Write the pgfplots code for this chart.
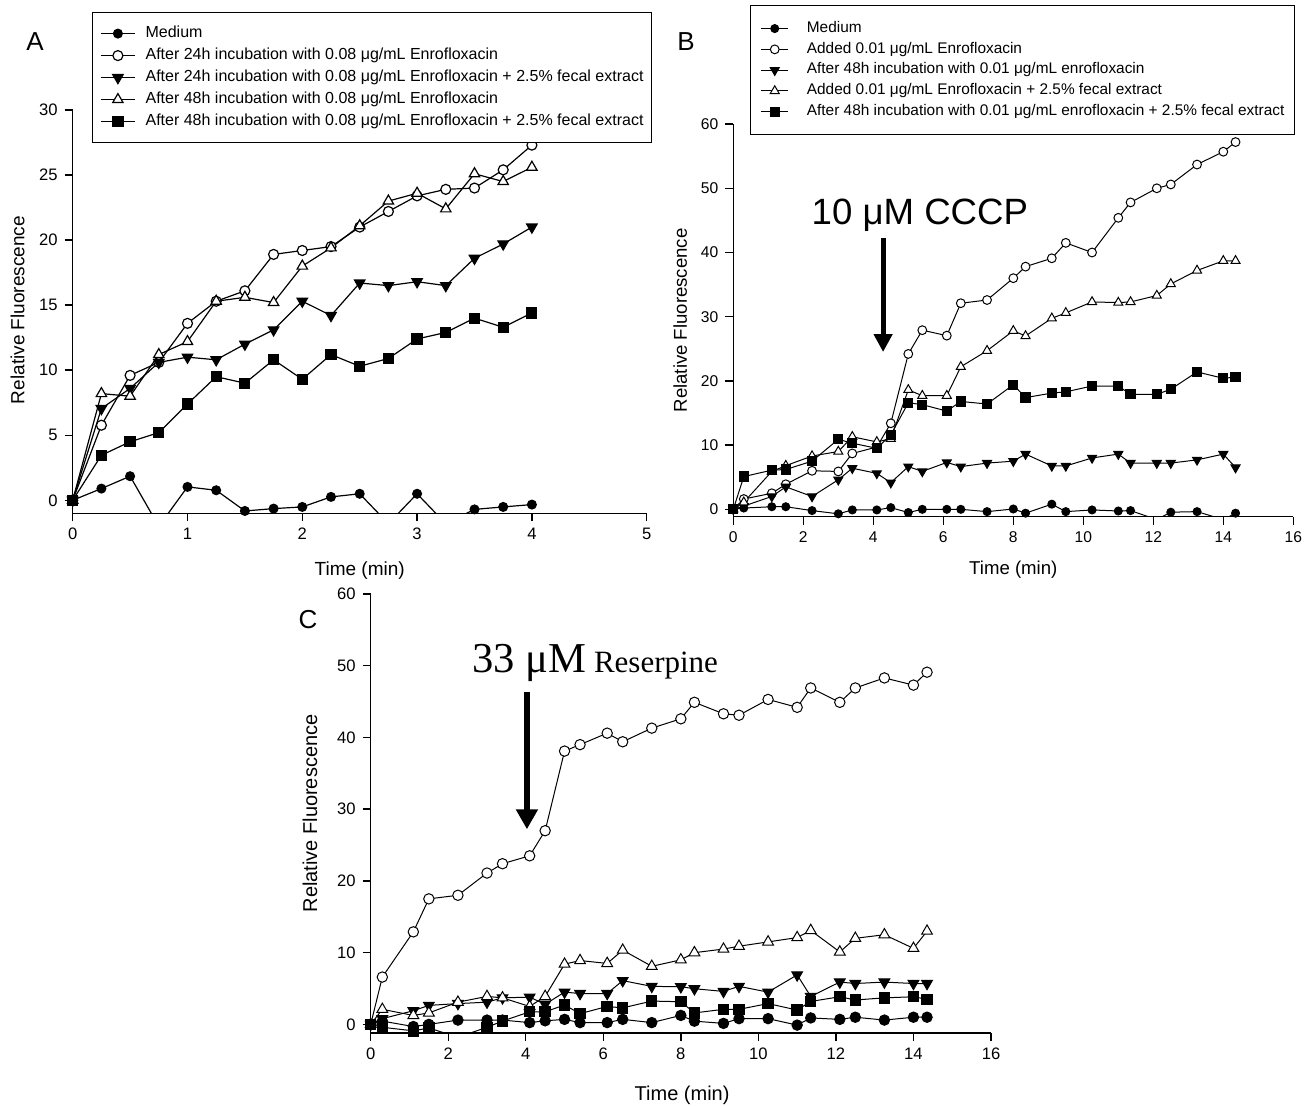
\documentclass[border=0pt]{standalone}
\usepackage{fontspec}
\setmainfont{Liberation Sans}
\newfontfamily\seriffont{Liberation Serif}
\usepackage{pgfplots}
\usepackage{pgfplotstable}
\pgfplotsset{compat=1.18}
\usetikzlibrary{arrows.meta}

% panel A: 0.25 min steps
\pgfplotstableread{
x    med   oc    dt    ot    sq
0    0     0     0     0     0
0.25 0.9   5.77  7.05  8.2   3.46
0.5  1.85  9.6   8.6   8.0   4.5
0.75 -2.0  10.6  10.6  11.2  5.2
1.0  1.03  13.6  11.0  12.2  7.4
1.25 0.77  15.3  10.8  15.3  9.5
1.5  -0.82 16.1  12.0  15.6  9.0
1.75 -0.64 18.9  13.1  15.2  10.8
2.0  -0.51 19.2  15.3  18.0  9.3
2.25 0.26  19.5  14.2  19.4  11.2
2.5  0.5   21.0  16.7  21.1  10.3
2.75 -1.8  22.2  16.5  23.0  10.9
3.0  0.5   23.4  16.8  23.6  12.4
3.25 -1.8  23.9  16.5  22.4  12.9
3.5  -0.7  24.0  18.6  25.1  14.0
3.75 -0.51 25.4  19.7  24.5  13.3
4.0  -0.33 27.3  21.0  25.6  14.4
}\dataA

% panel B: CCCP
\pgfplotstableread{
x     med   oc    dt    ot    sq
0     0     0     0     0     0
0.3   0.2   1.6   0.5   1.1   5.1
1.1   0.4   2.5   2.0   5.9   6.1
1.5   0.4   3.9   3.5   6.8   6.2
2.25  -0.2  6.0   2.0   8.3   7.5
3.0   -0.7  5.9   4.6   9.0   10.9
3.4   -0.1  8.7   6.4   11.3  10.3
4.1   -0.1  9.7   5.6   10.5  9.5
4.5   0.26  13.4  4.15  11.0  11.6
5.0   -0.5  24.2  6.65  18.6  16.6
5.4   0     27.9  5.9   17.7  16.3
6.1   0     27.05 7.3   17.7  15.3
6.5   0     32.1  6.65  22.2  16.8
7.25  -0.36 32.6  7.2   24.7  16.4
8.0   0.05  36.0  7.5   27.8  19.4
8.35  -0.6  37.8  8.6   27.0  17.4
9.1   0.8   39.1  6.75  29.75 18.1
9.5   -0.36 41.5  6.75  30.6  18.3
10.25 -0.1  40.0  8.0   32.3  19.2
11.0  -0.26 45.4  8.6   32.2  19.2
11.35 -0.2  47.8  7.2   32.3  17.9
12.1  -1.6  50.0  7.2   33.3  17.9
12.5  -0.45 50.6  7.2   35.1  18.7
13.25 -0.36 53.7  7.7   37.2  21.4
14.0  -1.6  55.7  8.6   38.7  20.4
14.35 -0.6  57.2  6.5   38.7  20.6
}\dataB

% panel C: reserpine
\pgfplotstableread{
x     med   oc    dt    ot    sq
0     0     0     0     0     0
0.3   0.46  6.6   0.8   2.1   -0.4
1.1   -0.3  12.9  1.9   1.25  -0.9
1.5   0     17.5  2.65  1.6   -0.5
2.25  0.6   18.0  2.9   3.1   -1.8
3.0   0.6   21.1  3.1   3.9   -0.4
3.4   0.6   22.4  3.7   3.7   0.46
4.1   0.25  23.5  3.8   2.5   1.76
4.5   0.5   27.0  2.8   3.9   1.76
5.0   0.7   38.1  4.5   8.4   2.7
5.4   0.25  39.0  4.3   8.9   1.5
6.1   0.25  40.6  4.3   8.5   2.5
6.5   0.7   39.4  6.1   10.35 2.3
7.25  0.25  41.3  5.3   8.1   3.25
8.0   1.25  42.6  5.25  9.0   3.16
8.35  0.45  44.9  4.97  10.0  1.6
9.1   0.14  43.3  4.6   10.5  2.1
9.5   0.8   43.1  5.3   10.9  2.1
10.25 0.8   45.3  4.5   11.5  2.9
11.0  -0.1  44.2  6.9   12.1  2.0
11.35 0.9   46.9  3.9   13.1  3.2
12.1  0.7   44.9  5.9   10.1  3.85
12.5  1.0   46.9  5.7   12.0  3.4
13.25 0.6   48.3  5.9   12.5  3.7
14.0  1.0   47.3  5.7   10.6  3.85
14.35 1.0   49.1  5.7   13.0  3.5
}\dataC

\pgfplotsset{
  panel/.style={
    scale only axis, anchor=south west,
    axis x line*=bottom, axis y line*=left,
    tick align=outside, major tick length=4pt,
    axis line style={line width=0.7pt},
    every tick/.style={line width=0.7pt, black},
    /pgf/number format/assume math mode=true,
    ylabel={Relative Fluorescence}, xlabel={Time (min)},
  },
  smed/.style={black, mark=*, mark options={fill=black}},
  soc/.style={black, mark=*, mark options={fill=white}},
  sdt/.style={black, mark=triangle*, mark options={rotate=180, fill=black}},
  sot/.style={black, mark=triangle*, mark options={fill=white}},
  ssq/.style={black, mark=square*, mark options={fill=black}},
}

\begin{document}
\begin{tikzpicture}
\useasboundingbox (0,0) rectangle (657pt,552.5pt);

% ---------- A ----------
\begin{axis}[panel,
  at={(36.35pt,295.85pt)}, width=287pt, height=201.65pt,
  xmin=0, xmax=5, ymin=-1, ymax=30,
  xtick={0,...,5}, ytick={0,5,...,30},
  tick label style={font=\fontsize{8.3}{9}\selectfont},
  label style={font=\fontsize{9.5}{10}\selectfont},
  xlabel style={at={(axis description cs:0.5,-0.141)}, anchor=center},
  ylabel style={at={(axis description cs:-0.096,0.504)}, anchor=center},
  every axis plot/.append style={line width=0.6pt, mark size=2.5pt},
  legend style={at={(0.033,1.243)}, anchor=north west, draw=black, line width=0.6pt,
    font=\fontsize{8}{9}\selectfont, inner xsep=4pt, inner ysep=7pt,
    row sep=4pt, column sep=5pt,
    nodes={inner sep=0pt, text height=5.6pt, text depth=1.4pt}},
  legend cell align=left,
]
\addplot[smed, mark size=2.2pt] table[x=x,y=med] {\dataA};
\addlegendentry{Medium}
\addplot[soc] table[x=x,y=oc] {\dataA};
\addlegendentry{After 24h incubation with 0.08 μg/mL Enrofloxacin}
\addplot[sdt, mark size=3pt] table[x=x,y=dt] {\dataA};
\addlegendentry{After 24h incubation with 0.08 μg/mL Enrofloxacin + 2.5\% fecal extract}
\addplot[sot, mark size=3pt] table[x=x,y=ot] {\dataA};
\addlegendentry{After 48h incubation with 0.08 μg/mL Enrofloxacin}
\addplot[ssq] table[x=x,y=sq] {\dataA};
\addlegendentry{After 48h incubation with 0.08 μg/mL Enrofloxacin + 2.5\% fecal extract}
\end{axis}

% ---------- B ----------
\begin{axis}[panel,
  at={(366.65pt,294.15pt)}, width=280pt, height=196.3pt,
  xmin=0, xmax=16, ymin=-1.15, ymax=60,
  xtick={0,2,...,16}, ytick={0,10,...,60},
  tick label style={font=\fontsize{7.8}{9}\selectfont},
  label style={font=\fontsize{9.3}{10}\selectfont},
  xlabel style={at={(axis description cs:0.5,-0.136)}, anchor=center},
  ylabel style={at={(axis description cs:-0.095,0.50)}, anchor=center},
  every axis plot/.append style={line width=0.5pt, mark size=2.2pt},
  legend image code/.code={\draw[mark repeat=2,mark phase=2] plot coordinates {(0cm,0cm)(0.24cm,0cm)(0.48cm,0cm)};},
  legend style={at={(0.0298,1.3034)}, anchor=north west, draw=black, line width=0.6pt,
    font=\fontsize{7.7}{9}\selectfont, inner xsep=5pt, inner ysep=8pt,
    row sep=3.4pt, column sep=9pt,
    nodes={inner sep=0pt, text height=5.4pt, text depth=1.6pt}},
  legend cell align=left,
]
\addplot[smed, mark size=2pt] table[x=x,y=med] {\dataB};
\addlegendentry{Medium}
\addplot[soc] table[x=x,y=oc] {\dataB};
\addlegendentry{Added 0.01 μg/mL Enrofloxacin}
\addplot[sdt, mark size=2.6pt] table[x=x,y=dt] {\dataB};
\addlegendentry{After 48h incubation with 0.01 μg/mL enrofloxacin}
\addplot[sot, mark size=2.6pt] table[x=x,y=ot] {\dataB};
\addlegendentry{Added 0.01 μg/mL Enrofloxacin + 2.5\% fecal extract}
\addplot[ssq, mark size=2.3pt] table[x=x,y=sq] {\dataB};
\addlegendentry{After 48h incubation with 0.01 μg/mL enrofloxacin + 2.5\% fecal extract}
\node[anchor=base, inner sep=0pt, font=\fontsize{18.3}{20}\selectfont] at (axis cs:5.33,44.3) {10 μM CCCP};
\draw[line width=2.5pt, -{Triangle[width=9pt,length=9pt]}] (axis cs:4.28,42.3) -- (axis cs:4.28,24.5);
\end{axis}

% ---------- C ----------
\begin{axis}[panel,
  at={(185.35pt,36pt)}, width=310.15pt, height=219.5pt,
  xmin=0, xmax=16, ymin=-1.2, ymax=60,
  xtick={0,2,...,16}, ytick={0,10,...,60},
  tick label style={font=\fontsize{8.3}{9}\selectfont},
  label style={font=\fontsize{10}{11}\selectfont},
  xlabel style={at={(axis description cs:0.502,-0.141)}, anchor=center},
  ylabel style={at={(axis description cs:-0.098,0.50)}, anchor=center},
  every axis plot/.append style={line width=0.5pt, mark size=2.6pt},
]
\addplot[smed] table[x=x,y=med] {\dataC};
\addplot[soc] table[x=x,y=oc] {\dataC};
\addplot[sdt, mark size=3.1pt] table[x=x,y=dt] {\dataC};
\addplot[sot, mark size=3.1pt] table[x=x,y=ot] {\dataC};
\addplot[ssq] table[x=x,y=sq] {\dataC};
\node[anchor=base west, inner sep=0pt] at (axis cs:2.61,49.0)
  {\seriffont\fontsize{21.3}{24}\selectfont 33 μM\fontsize{15.5}{17}\selectfont\ Reserpine};
\draw[line width=3pt, -{Triangle[width=10.5pt,length=10pt]}] (axis cs:4.03,46.4) -- (axis cs:4.03,27.2);
\end{axis}

\node[font=\fontsize{13}{15}\selectfont] at (17.5pt,531.5pt) {A};
\node[font=\fontsize{13}{15}\selectfont] at (343pt,531.5pt) {B};
\node[font=\fontsize{13}{15}\selectfont] at (154pt,242.5pt) {C};
\end{tikzpicture}
\end{document}
